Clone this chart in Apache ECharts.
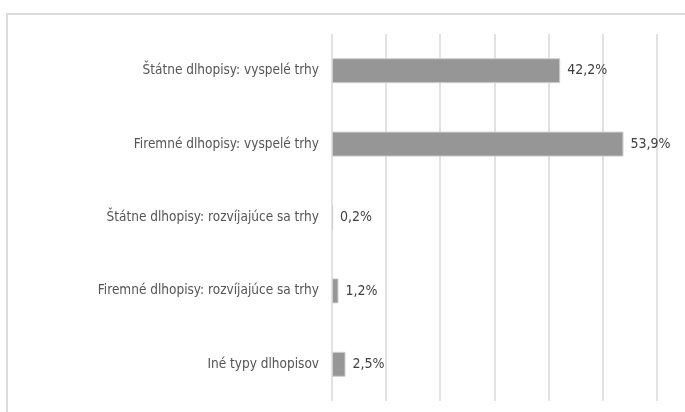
<!DOCTYPE html>
<html>
<head>
<meta charset="utf-8">
<script src="https://cdn.jsdelivr.net/npm/echarts@6/dist/echarts.min.js"></script>
<style>
  html, body { margin: 0; padding: 0; background: #fff; }
  #frame {
    position: absolute; left: 6px; top: 13px; width: 700px; height: 420px;
    border-top: 2px solid #dcdcdc; border-left: 2px solid #dcdcdc;
  }
  #chart { position: absolute; left: 0; top: 0; width: 685px; height: 412px; }
</style>
</head>
<body>
<div id="frame"></div>
<div id="chart"></div>
<script>
// kategórie dlhopisov
const categories = [
  'Štátne dlhopisy: vyspelé trhy',
  'Firemné dlhopisy: vyspelé trhy',
  'Štátne dlhopisy: rozvíjajúce sa trhy',
  'Firemné dlhopisy: rozvíjajúce sa trhy',
  'Iné typy dlhopisov'
]
// podiel v %
const shares = [42.2, 53.9, 0.2, 1.2, 2.5]

const font = "'DejaVu Sans Condensed', 'Liberation Sans', sans-serif"
const chart = echarts.init(document.getElementById('chart'))
chart.setOption({
  animation: false,
  grid: { left: 332, right: 28.5, top: 34, bottom: 11, containLabel: false },
  xAxis: {
    type: 'value',
    min: 0,
    max: 60,
    interval: 10,
    axisLabel: { show: false },
    axisLine: { show: false },
    axisTick: { show: false },
    splitLine: { show: true, lineStyle: { color: '#d9d9d9', width: 1.5 } }
  },
  yAxis: {
    type: 'category',
    inverse: true,
    data: categories,
    axisLine: { show: false },
    axisTick: { show: false },
    axisLabel: { color: '#555555', fontSize: 13.5, fontFamily: font, margin: 13 }
  },
  series: [
    {
      type: 'bar',
      data: shares,
      barWidth: 25,
      itemStyle: { color: '#969696', borderColor: '#cfcfcf', borderWidth: 1 },
      label: {
        show: true,
        position: 'right',
        distance: 7,
        color: '#404040',
        fontSize: 14,
        fontFamily: font,
        formatter: (p) => p.value.toFixed(1).replace('.', ',') + '%'
      }
    }
  ]
})
</script>
</body>
</html>
